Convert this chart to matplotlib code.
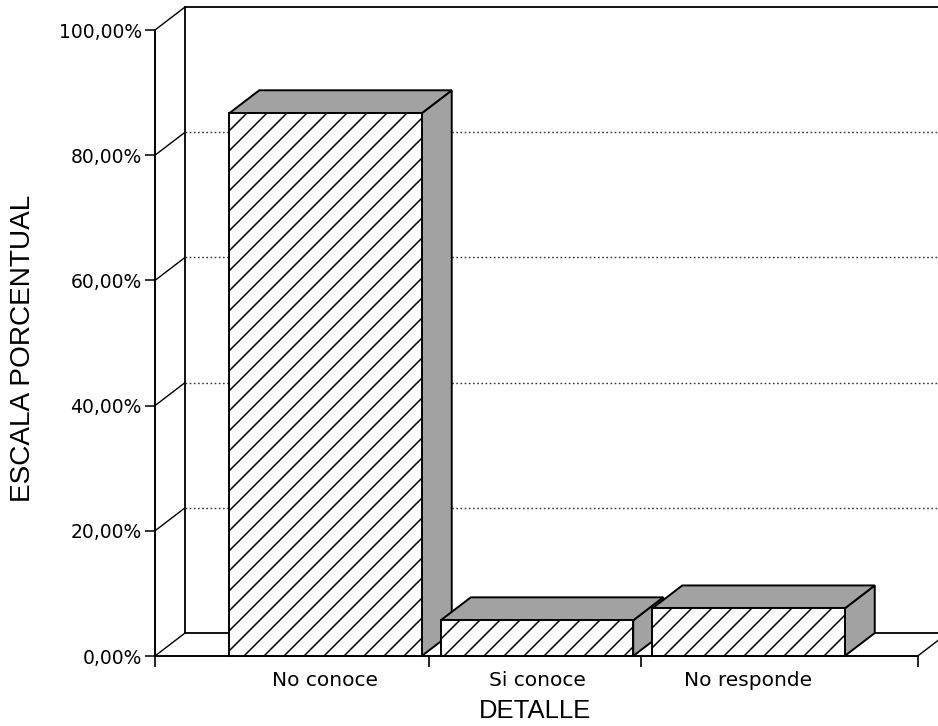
import matplotlib
matplotlib.use("Agg")
import matplotlib.pyplot as plt
from matplotlib.patches import Polygon, Rectangle
import numpy as np

# ---- data ----
categories = ["No conoce", "Si conoce", "No responde"]
values = [86.7, 5.7, 7.6]
y_ticks = [0, 20, 40, 60, 80, 100]
y_tick_labels = ["0,00%", "20,00%", "40,00%", "60,00%", "80,00%", "100,00%"]
x_label = "DETALLE"
y_label = "ESCALA PORCENTUAL"

# ---- style / geometry ----
W, H = 938, 726
DPI = 120
S = 100 / DPI                  # keep sizes as if drawn at 100 dpi


def pt(v):
    return v * S


plt.rcParams["hatch.linewidth"] = pt(1.1)

bar_w = 0.91
DX, DY = 0.142, 3.67           # 3-D depth offset (data units)
XMIN, XMAX = -0.806, 2.896
AXIS_END = 2.80
boundaries = [XMIN, 0.49, 1.49, AXIS_END]
side_col = "#a2a2a2"

fig = plt.figure(figsize=(W / DPI, H / DPI), dpi=DPI)
ax = fig.add_axes([155 / W, 70 / H, (W - 155) / W, 626 / H])
ax.set_xlim(XMIN, XMAX)
ax.set_ylim(0, 100)
ax.patch.set_alpha(0)

for s in ("top", "right"):
    ax.spines[s].set_visible(False)
ax.spines["left"].set_bounds(0, 100)
ax.spines["bottom"].set_bounds(XMIN, AXIS_END)
for s in ("left", "bottom"):
    ax.spines[s].set_linewidth(pt(1.4))
    ax.spines[s].set_zorder(10)

# y axis ticks
ax.set_yticks(y_ticks)
ax.set_yticklabels(y_tick_labels, fontsize=pt(13.5), family="DejaVu Sans")
ax.tick_params(axis="y", direction="out", length=pt(7), width=pt(1.1), pad=pt(2.5))

# x axis: labels at bar centres, tick marks at category boundaries
xpos = np.arange(len(categories))
ax.set_xticks(xpos)
ax.set_xticklabels(categories, fontsize=pt(14.5), family="DejaVu Sans")
ax.tick_params(axis="x", which="major", length=0, pad=pt(10.5))
ax.set_xticks(boundaries, minor=True)
ax.tick_params(axis="x", which="minor", direction="out", length=pt(8), width=pt(1.2))

# axis labels
ax.set_xlabel(x_label, fontsize=pt(18.5), family="Liberation Sans")
ax.xaxis.set_label_coords((535 - 155) / 783, (656 - 711) / 626)
ax.xaxis.label.set_va("center")
ax.set_ylabel(y_label, fontsize=pt(20.2), family="Liberation Sans")
ax.yaxis.set_label_coords((23 - 155) / 783, (656 - 348) / 626)
ax.yaxis.label.set_va("center")

# ---- back wall & floor ----
lw_frame = pt(1.3)
bx = XMIN + DX
ax.plot([bx, bx], [DY, 100 + DY], color="black", lw=lw_frame, clip_on=False, zorder=1)
ax.plot([bx, XMAX], [100 + DY, 100 + DY], color="black", lw=lw_frame, clip_on=False, zorder=1)
ax.plot([bx, XMAX], [DY, DY], color="black", lw=lw_frame, clip_on=False, zorder=1)
for t in y_ticks:
    ax.plot([XMIN, bx], [t, t + DY], color="black", lw=pt(1.0), clip_on=False, zorder=1)
    if 0 < t < 100:
        ax.plot([bx, XMAX], [t + DY, t + DY], color="#333333", lw=pt(1.0),
                linestyle=(0, (1.2, 1.8)), clip_on=False, zorder=1)
ax.plot([AXIS_END, AXIS_END + DX], [0, DY], color="black", lw=pt(1.0), clip_on=False, zorder=1)

# ---- 3-D bars ----
for i, (x, v) in enumerate(zip(xpos, values)):
    x0, x1 = x - bar_w / 2, x + bar_w / 2
    z = 3 + i
    side = Polygon([(x1, 0), (x1 + DX, DY), (x1 + DX, v + DY), (x1, v)],
                   closed=True, facecolor=side_col, edgecolor="black", lw=pt(1.4),
                   zorder=z, clip_on=False)
    top = Polygon([(x0, v), (x1, v), (x1 + DX, v + DY), (x0 + DX, v + DY)],
                  closed=True, facecolor=side_col, edgecolor="black", lw=pt(1.4),
                  zorder=z, clip_on=False)
    front = Rectangle((x0, 0), bar_w, v, facecolor="white", edgecolor="black",
                      hatch="//", lw=pt(1.4), zorder=z, clip_on=False)
    for p in (side, top, front):
        ax.add_patch(p)

fig.savefig("out.png", dpi=DPI)
